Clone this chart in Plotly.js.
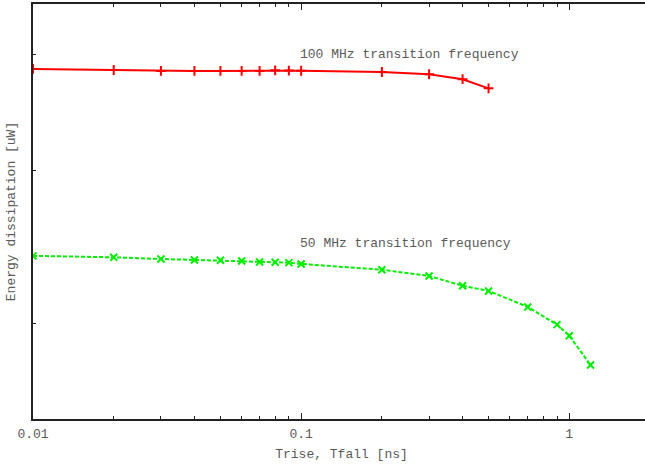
<!DOCTYPE html>
<html>
<head>
<meta charset="utf-8">
<script src="https://cdn.plot.ly/plotly-3.0.1.min.js"></script>
<style>
html, body { margin: 0; padding: 0; overflow: hidden; background: #fff; }
#chart { width: 652px; height: 466px; }
</style>
</head>
<body>
<div id="chart"></div>
<script>
// Rise/fall time [ns]
const tRise100 = [0.01, 0.02, 0.03, 0.04, 0.05, 0.06, 0.07, 0.08, 0.09, 0.1, 0.2, 0.3, 0.4, 0.5];
const energy100 = [9.19, 9.13, 9.08, 9.08, 9.08, 9.08, 9.08, 9.11, 9.10, 9.09, 9.02, 8.90, 8.64, 8.18];

const tRise50 = [0.01, 0.02, 0.03, 0.04, 0.05, 0.06, 0.07, 0.08, 0.09, 0.1, 0.2, 0.3, 0.4, 0.5, 0.7, 0.9, 1.0, 1.2];
const energy50 = [3.00, 2.974, 2.944, 2.926, 2.921, 2.909, 2.892, 2.886, 2.880, 2.858, 2.761, 2.659, 2.509, 2.431, 2.209, 1.987, 1.860, 1.561];

const xTickVals = [0.01, 0.1, 1];
const xTickText = ['0.01', '0.1', '1'];
const xMinorVals = [0.02,0.03,0.04,0.05,0.06,0.07,0.08,0.09,0.2,0.3,0.4,0.5,0.6,0.7,0.8,0.9,2];
const yTickVals = [2, 5, 10];

const label100 = '100 MHz transition frequency';
const label50 = '50 MHz transition frequency';

const FONT = 'Liberation Mono, Courier New, monospace';
const GREY = '#5a5a5a';

const traces = [
  {
    x: tRise100, y: energy100, type: 'scatter', mode: 'lines+markers',
    line: { color: '#ff0000', width: 2 },
    marker: { symbol: 'cross-thin-open', size: 7, color: '#ff0000', line: { color: '#ff0000', width: 2 } },
    showlegend: false, hoverinfo: 'skip'
  },
  {
    x: tRise50, y: energy50, type: 'scatter', mode: 'lines+markers',
    line: { color: '#00ee00', width: 2, dash: '4px,2px' },
    marker: { symbol: 'x-thin-open', size: 7, color: '#00ee00', line: { color: '#00ee00', width: 2 } },
    showlegend: false, hoverinfo: 'skip'
  }
];

const layout = {
  width: 652, height: 466,
  margin: { l: 33, r: 2, t: 4, b: 47 },
  paper_bgcolor: '#fff', plot_bgcolor: '#fff',
  font: { family: FONT, size: 13, color: GREY },
  xaxis: {
    type: 'log', range: [-2, Math.log10(2)],
    tickmode: 'array', tickvals: xTickVals, ticktext: xTickText,
    ticks: 'inside', ticklen: 6, tickwidth: 1, tickcolor: '#222',
    minor: { ticks: 'inside', ticklen: 3, tickwidth: 1, tickcolor: '#222', tickmode: 'array', tickvals: xMinorVals, showgrid: false },
    showline: true, linecolor: '#222', linewidth: 2, mirror: 'ticks',
    showgrid: false, zeroline: false,
    ticklabelstandoff: 1,
    tickfont: { family: FONT, size: 13, color: GREY },
    title: { text: 'Trise, Tfall [ns]', font: { family: FONT, size: 13, color: GREY }, standoff: 8 }
  },
  yaxis: {
    type: 'log', range: [0.0528, 1.1321],
    tickmode: 'array', tickvals: yTickVals, showticklabels: false,
    ticks: 'inside', ticklen: 3, tickwidth: 1, tickcolor: '#222',
    showline: true, linecolor: '#222', linewidth: 2, mirror: 'ticks',
    showgrid: false, zeroline: false,
    title: { text: 'Energy dissipation [uW]', font: { family: FONT, size: 13, color: GREY }, standoff: 12 }
  },
  annotations: [
    { x: -1, y: 1.0, xref: 'x', yref: 'y', xshift: -3, text: label100, showarrow: false, xanchor: 'left', yanchor: 'middle', font: { family: FONT, size: 13, color: GREY } },
    { x: -1, y: 0.5105, xref: 'x', yref: 'y', xshift: -3, text: label50, showarrow: false, xanchor: 'left', yanchor: 'middle', font: { family: FONT, size: 13, color: GREY } }
  ]
};

Plotly.newPlot('chart', traces, layout, { staticPlot: true, displayModeBar: false });
</script>
</body>
</html>
